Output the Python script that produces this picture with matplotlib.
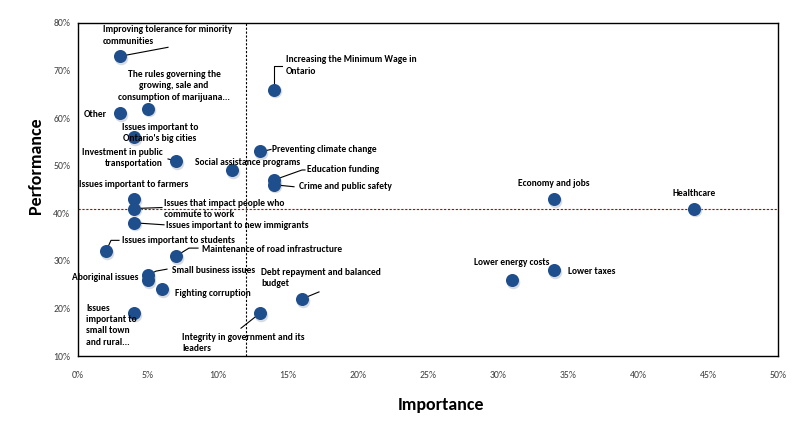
import matplotlib.pyplot as plt
from matplotlib.ticker import PercentFormatter

# issues: importance (% of mentions) vs performance (%)
labels = [
    "Improving tolerance for minority\ncommunities",
    "Increasing the Minimum Wage in\nOntario",
    "The rules governing the\ngrowing, sale and\nconsumption of marijuana...",
    "Other",
    "Issues important to\nOntario's big cities",
    "Preventing climate change",
    "Investment in public\ntransportation",
    "Social assistance programs",
    "Education funding",
    "Crime and public safety",
    "Issues important to farmers",
    "Economy and jobs",
    "Issues that impact people who\ncommute to work",
    "Healthcare",
    "Issues important to new immigrants",
    "Issues important to students",
    "Maintenance of road infrastructure",
    "Small business issues",
    "Aboriginal issues",
    "Lower taxes",
    "Lower energy costs",
    "Fighting corruption",
    "Debt repayment and balanced\nbudget",
    "Issues\nimportant to\nsmall town\nand rural...",
    "Integrity in government and its\nleaders",
]
importance = [3, 14, 5, 3, 4, 13, 7, 11, 14, 14, 4, 34, 4, 44, 4, 2, 7, 5, 5, 34, 31, 6, 16, 4, 13]
performance = [73, 66, 62, 61, 56, 53, 51, 49, 47, 46, 43, 43, 41, 41, 38, 32, 31, 27, 26, 28, 26, 24, 22, 19, 19]

avg_importance = 12
avg_performance = 41

FONT = ["Carlito", "DejaVu Sans"]

# label placement: (dx, dy) in pixels from the dot, alignment, leader line vertices
placement = [
    ((-17, 21), "left", [(0, 0), (48, 9)]),
    ((12, 24), "left", [(0, 0), (0, 24), (8, 24)]),
    ((26, 23), "center", None),
    ((-13, -1), "right", None),
    ((26, 4), "center", None),
    ((12, 2), "left", [(2, 0), (11, 2)]),
    ((-13, 3), "right", [(0, 0), (-8, 2)]),
    ((16, 8), "center", None),
    ((33, 10), "left", [(0, 0), (28, 10), (31, 10)]),
    ((25, -2), "left", [(0, 0), (20, -2)]),
    ((0, 15), "center", None),
    ((0, 16), "center", None),
    ((30, -0.5), "left", [(0, 0), (28, 1)]),
    ((0, 15), "center", None),
    ((32, -3), "left", [(0, 0), (30, -2)]),
    ((16, 11), "left", [(0, 0), (5, 11), (13, 11)]),
    ((26, 7), "left", [(0, 0), (13, 8), (22, 8)]),
    ((24, 5), "left", [(0, 0), (8, 4), (19, 6)]),
    ((-10, 2), "right", None),
    ((14, -1), "left", None),
    ((0, 17), "center", None),
    ((13, -4), "left", None),
    ((-41, 21), "left", [(0, 0), (17, 7)]),
    ((-48, -12), "left", None),
    ((-78, -30), "left", [(0, 0), (-19, -15)]),
]

fig = plt.figure(figsize=(7.92, 4.23), dpi=100)
ax = fig.add_axes([78 / 792, 1 - 356 / 423, 700 / 792, 333 / 423])

ax.set_xlim(0, 50)
ax.set_ylim(10, 80)
ax.set_xticks(range(0, 51, 5))
ax.set_yticks(range(10, 81, 10))
ax.xaxis.set_major_formatter(PercentFormatter(decimals=0))
ax.yaxis.set_major_formatter(PercentFormatter(decimals=0))
ax.tick_params(length=0, labelsize=7, colors="#404040")
ax.tick_params(axis="x", pad=11)
ax.tick_params(axis="y", pad=5.5)
for t in ax.get_xticklabels() + ax.get_yticklabels():
    t.set_fontfamily(FONT)
for s in ax.spines.values():
    s.set_color("black")
    s.set_linewidth(1)

ax.axvline(avg_importance, color="black", linestyle=(0, (2, 1.5)), linewidth=0.8, zorder=1)
ax.axhline(avg_performance, color="#c00000", linestyle=(0, (2, 1.5)), linewidth=0.8, zorder=1)

# soft shadow then dot
ax.scatter([x + 0.08 for x in importance], [y - 0.35 for y in performance], s=95,
           color="#b0b8c8", alpha=0.5, linewidths=0, zorder=2)
ax.scatter(importance, performance, s=88, color="#1f4e8c", linewidths=0, zorder=3)

fig.canvas.draw()
to_data = ax.transData.inverted()
for lab, x, y, (off, ha, leader) in zip(labels, importance, performance, placement):
    ax.annotate(lab, (x, y), xytext=off, textcoords="offset pixels",
                ha=ha, va="center", multialignment=ha,
                fontsize=6.8, fontweight="bold", linespacing=1.35,
                family=FONT, zorder=4)
    if leader:
        px, py = ax.transData.transform((x, y))
        pts = [to_data.transform((px + dx, py + dy)) for dx, dy in leader]
        ax.plot([p[0] for p in pts], [p[1] for p in pts], color="black",
                linewidth=0.8, zorder=2.5, clip_on=False)

fig.text(36 / 792, 1 - 166 / 423, "Performance", rotation=90, ha="center", va="center",
         fontsize=13, fontweight="bold", family=FONT)
fig.text(441 / 792, 1 - 405 / 423, "Importance", ha="center", va="center",
         fontsize=13, fontweight="bold", family=FONT)

fig.savefig("out.png", dpi=100)
